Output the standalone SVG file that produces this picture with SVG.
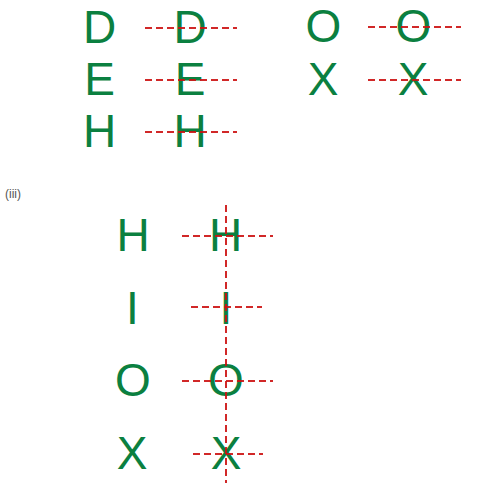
<svg xmlns="http://www.w3.org/2000/svg" width="477" height="498" viewBox="0 0 477 498">
<style>
.l{font-family:"Liberation Sans",Arial,sans-serif;font-size:46px;fill:#0b8040;text-anchor:middle}
.c{stroke:#cc1111;stroke-width:2;stroke-dasharray:7,4;fill:none;opacity:0.9}
.lab{font-family:"Liberation Sans",Arial,sans-serif;font-size:12px;fill:#555}
</style>
<rect width="477" height="498" fill="#fff"/>
<g id="letters">
<g id="n-D1"><text class="l" x="99.5" y="43">D</text></g>
<g id="n-D2"><text class="l" x="190" y="43">D</text></g>
<g id="n-E1"><text class="l" x="99.5" y="95">E</text></g>
<g id="n-E2"><text class="l" x="190" y="95">E</text></g>
<g id="n-H1"><text class="l" x="99.5" y="147">H</text></g>
<g id="n-H2"><text class="l" x="190" y="147">H</text></g>
<g id="n-O1"><text class="l" x="323.5" y="42">O</text></g>
<g id="n-O2"><text class="l" x="413.5" y="42">O</text></g>
<g id="n-X1"><text class="l" x="323" y="95">X</text></g>
<g id="n-X2"><text class="l" x="413" y="95">X</text></g>
<g id="label-iii"><text class="lab" x="5" y="198">(iii)</text></g>
<g id="n-H3"><text class="l" x="133" y="251">H</text></g>
<g id="n-H4"><text class="l" x="225.5" y="251">H</text></g>
<g id="n-I1"><text class="l" x="132.5" y="324">I</text></g>
<g id="n-I2"><text class="l" x="226" y="324">I</text></g>
<g id="n-O3"><text class="l" x="133" y="396">O</text></g>
<g id="n-O4"><text class="l" x="226" y="396">O</text></g>
<g id="n-X3"><text class="l" x="132" y="469">X</text></g>
<g id="n-X4"><text class="l" x="226" y="469">X</text></g>
</g>
<g id="connectors">
<line class="c" x1="145" y1="28" x2="237" y2="28"/>
<line class="c" x1="145" y1="80" x2="237" y2="80"/>
<line class="c" x1="145" y1="132" x2="237" y2="132"/>
<line class="c" x1="368" y1="27" x2="461" y2="27"/>
<line class="c" x1="368" y1="80" x2="461" y2="80"/>
<line class="c" x1="182" y1="236" x2="273" y2="236"/>
<line class="c" x1="191" y1="307" x2="262" y2="307"/>
<line class="c" x1="182" y1="381" x2="273" y2="381"/>
<line class="c" x1="193" y1="454" x2="263" y2="454"/>
<line class="c" x1="226" y1="205" x2="226" y2="483"/>
</g>
</svg>
